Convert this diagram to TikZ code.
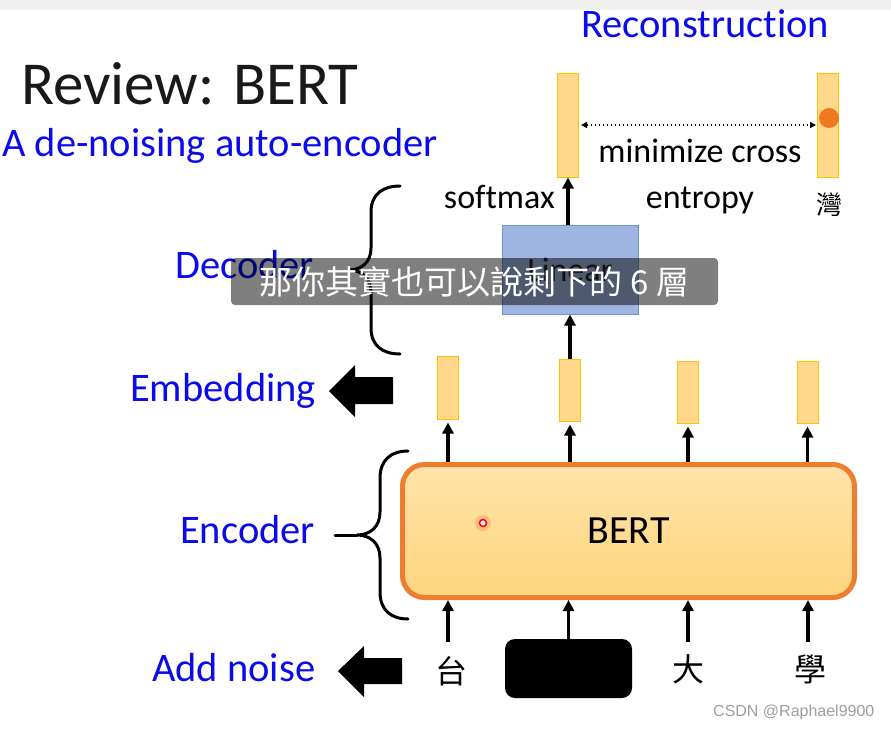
\documentclass[tikz,border=0pt]{standalone}
\usepackage{fontspec}
\setmainfont{Carlito}[Ligatures={NoCommon}]
\newfontfamily\cjk{Noto Sans CJK TC}
\newfontfamily\wmfont{Liberation Sans}
\usetikzlibrary{arrows.meta}
\definecolor{lblue}{RGB}{10,10,235}
\definecolor{barfill}{RGB}{255,216,140}
\definecolor{barline}{RGB}{255,192,0}
\definecolor{bertline}{RGB}{237,125,49}
\definecolor{berttop}{RGB}{255,228,170}
\definecolor{bertbot}{RGB}{255,212,125}
\definecolor{linfill}{RGB}{158,180,225}
\definecolor{linline}{RGB}{115,145,205}
\definecolor{dotorange}{RGB}{240,120,30}
\begin{document}
\begin{tikzpicture}[x=1pt,y=-1pt,
  bar/.style={draw=barline, fill=barfill, line width=1pt, minimum width=21pt, inner sep=0pt},
  arr/.style={line width=3.2pt, -{Triangle[length=11pt,width=11pt]}},
  lbl/.style={text=lblue, font=\fontsize{40.5}{48}\selectfont, inner sep=0pt, anchor=base west},
  txt/.style={font=\fontsize{34}{40}\selectfont, inner sep=0pt, anchor=base},
  cjktok/.style={font=\cjk\fontsize{32}{36}\selectfont, inner sep=0pt},
  brace/.style={line width=3pt, line cap=round},
]
\useasboundingbox (0,0) rectangle (891,728);
\fill[white] (0,0) rectangle (891,728);
\fill[black!6] (0,0) rectangle (891,10);

% titles
\node[font=\fontsize{61}{70}\selectfont, inner sep=0pt, anchor=base west, text=black!90] (title) at (21,104) {Review: BERT};
\node[lbl] (sub) at (2,156) {A de-noising auto-encoder};
\node[lbl] (recon) at (581,37) {Reconstruction};

% reconstruction bars
\node[bar, minimum height=104pt] (rec) at (568,125) {};
\node[bar, minimum height=104pt] (tgt) at (828,125) {};
\fill[dotorange] (829,118) circle[radius=10pt];
\draw[line width=1.8pt, dash pattern=on 1.8pt off 2.2pt, {Triangle[length=6pt,width=6pt]}-{Triangle[length=6pt,width=6pt]}] ([xshift=2pt]rec.east) -- ([xshift=-1pt]tgt.west);
\node[txt] (mc) at (700,162) {minimize cross};
\node[txt] (ent) at (700,208) {entropy};
\node[txt, anchor=base east] (sm) at (555,208) {softmax};
\node[font=\cjk\fontsize{26}{30}\selectfont, inner sep=0pt] (wan) at (829,205) {灣};

% linear
\node[draw=linline, fill=linfill, line width=1pt, minimum width=136pt, minimum height=89pt, inner sep=0pt, font=\fontsize{34}{40}\selectfont, text=black!85] (lin) at (570,269.5) {Linear};
\draw[arr] (rec.south |- lin.north) -- (rec.south);

% embedding bars
\node[bar, minimum height=63pt] (e1) at (448,387.5) {};
\node[bar, minimum height=62pt] (e2) at (570,390) {};
\node[bar, minimum height=62pt] (e3) at (688,392) {};
\node[bar, minimum height=62pt] (e4) at (807.5,392) {};
\draw[arr] (e2.north) -- (lin.south);

% BERT
\node[draw=bertline, line width=5pt, rounded corners=22pt, top color=berttop, bottom color=bertbot, minimum width=452pt, minimum height=133pt, font=\fontsize{40}{46}\selectfont] (bert) at (628.5,531) {BERT};
\fill[red, opacity=0.15] (483,523) circle[radius=8pt];
\draw[red, line width=1.5pt, fill=white] (483,523) circle[radius=3.5pt];

\foreach \e in {e1,e2,e3,e4} \draw[arr, shorten >=3pt] (bert.north -| \e.south) -- (\e.south);

% tokens
\node[cjktok] (t1) at (451,671) {台};
\node[fill=black, rounded corners=10pt, minimum width=127pt, minimum height=59pt, inner sep=0pt] (mask) at (568.5,668.5) {};
\node[cjktok] (t3) at (688,669) {大};
\node[cjktok] (t4) at (810,669) {學};
\coordinate (s1) at (448,642);
\coordinate (s3) at (688,642);
\coordinate (s4) at (808,642);
\draw[arr] (s1) -- (s1 |- bert.south);
\draw[arr] (mask.north) -- (mask.north |- bert.south);
\draw[arr] (s3) -- (s3 |- bert.south);
\draw[arr] (s4) -- (s4 |- bert.south);

% left labels
\node[lbl] (dec) at (175,278) {Decoder};
\node[lbl] (emb) at (130,401) {Embedding};
\node[lbl] (enc) at (180,543) {Encoder};
\node[lbl] (noise) at (152,681) {Add noise};

% braces
\draw[brace] (400,186) .. controls (383,186) and (371,194) .. (371,212) -- (371,248) .. controls (371,262) and (362,270) .. (348,270) .. controls (362,270) and (371,278) .. (371,292) -- (371,328) .. controls (371,346) and (383,354) .. (400,354);
\draw[brace] (408,451) .. controls (391,451) and (380,460) .. (380,478) -- (380,512) .. controls (380,527) and (370,535) .. (357,535) .. controls (370,535) and (380,543) .. (380,558) -- (380,592) .. controls (380,610) and (391,619) .. (408,619);
\draw[brace] (357,535) -- (335,535);

% block arrows
\fill (329,391) -- (355,365) -- (355,377) -- (393,377) -- (393,404) -- (355,404) -- (355,417) -- cycle;
\fill (338,671) -- (364,646) -- (364,658) -- (402,658) -- (402,684) -- (364,684) -- (364,697) -- cycle;

% subtitle overlay
\fill[black, opacity=0.5, rounded corners=4pt] (231,258) rectangle (718,305);
\node[text=white, font=\cjk\fontsize{33}{36}\selectfont, inner sep=0pt] (cap) at (474.5,282) {那你其實也可以說剩下的 6 層};

% watermark
\node[font=\wmfont\fontsize{16}{18}\selectfont, text=black!38, anchor=base west, inner sep=0pt] (wm) at (713,716) {CSDN @Raphael9900};
\end{tikzpicture}
\end{document}
